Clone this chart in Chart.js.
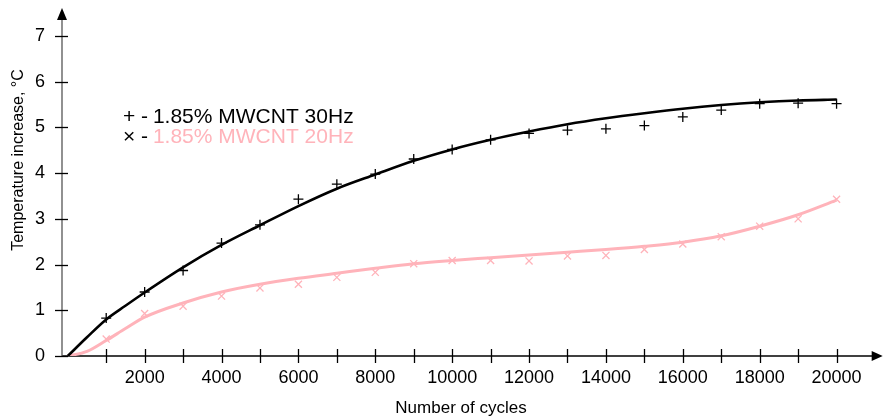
<!DOCTYPE html>
<html lang="en">
<head>
  <meta charset="UTF-8">
  <title>Temperature increase vs number of cycles</title>
  <style>
    body {
      margin: 0;
      padding: 0;
      background: #ffffff;
      font-family: 'Liberation Sans', Arial, Helvetica, sans-serif;
    }
    #wrap {
      position: relative;
      width: 889px;
      height: 419px;
    }
  </style>
  <script src="https://cdn.jsdelivr.net/npm/chart.js"></script>
</head>
<body>
  <div id="wrap">
    <canvas id="tempChart" width="889" height="419"></canvas>
  </div>
  <script>
    // measured points
    const cycles = [1000, 2000, 3000, 4000, 5000, 6000, 7000, 8000, 9000, 10000,
                    11000, 12000, 13000, 14000, 15000, 16000, 17000, 18000, 19000, 20000];
    const temp30Hz = [0.83, 1.40, 1.87, 2.47, 2.87, 3.43, 3.76, 3.98, 4.31, 4.52,
                      4.73, 4.87, 4.94, 4.97, 5.04, 5.23, 5.38, 5.52, 5.53, 5.52];
    const temp20Hz = [0.37, 0.93, 1.09, 1.31, 1.49, 1.57, 1.72, 1.83, 2.02, 2.09,
                      2.09, 2.08, 2.19, 2.20, 2.33, 2.45, 2.61, 2.84, 3.00, 3.43];

    // fitted curves
    const fitCycles = [0, 500, 1000, 1500, 2000, 3000, 4000, 5000, 6000, 7000, 8000, 9000, 10000,
                       11000, 12000, 13000, 14000, 15000, 16000, 17000, 18000, 19000, 20000];
    const fit30Hz = [0, 0.41, 0.80, 1.10, 1.39, 1.94, 2.43, 2.86, 3.28, 3.66, 3.97, 4.27, 4.52,
                     4.73, 4.91, 5.07, 5.20, 5.31, 5.41, 5.49, 5.55, 5.59, 5.61];
    const fit20Hz = [0, 0.10, 0.34, 0.60, 0.85, 1.16, 1.40, 1.57, 1.70, 1.81, 1.92, 2.02, 2.09,
                     2.15, 2.21, 2.27, 2.33, 2.40, 2.49, 2.63, 2.84, 3.09, 3.41];

    const xLabelTicks = [2000, 4000, 6000, 8000, 10000, 12000, 14000, 16000, 18000, 20000];
    const xTickMarks = [1000, 2000, 3000, 4000, 5000, 6000, 7000, 8000, 9000, 10000,
                        11000, 12000, 13000, 14000, 15000, 16000, 17000, 18000, 19000, 20000];
    const yTicks = [0, 1, 2, 3, 4, 5, 6, 7];

    const seriesNames = ['1.85% MWCNT 30Hz', '1.85% MWCNT 20Hz'];
    const pink = '#ffb3ba';
    const fontFamily = "'Liberation Sans', Arial, Helvetica, sans-serif";

    const toXY = (xs, ys) => xs.map((x, i) => ({ x: x, y: ys[i] }));

    // axes with arrows, ticks crossing the lines, titles and legend
    const axesPlugin = {
      id: 'axesPlugin',
      beforeDatasetsDraw(chart) {
        const ctx = chart.ctx;
        const xs = chart.scales.x, ys = chart.scales.y;
        const x0 = xs.left, y0 = ys.getPixelForValue(0);
        const xEnd = xs.right, yEnd = ys.top;
        ctx.save();
        // x axis
        ctx.strokeStyle = '#000';
        ctx.fillStyle = '#000';
        ctx.lineWidth = 1.3;
        ctx.beginPath();
        ctx.moveTo(x0, y0);
        ctx.lineTo(xEnd - 8, y0);
        ctx.stroke();
        ctx.beginPath();
        ctx.moveTo(xEnd, y0);
        ctx.lineTo(xEnd - 11, y0 - 5);
        ctx.lineTo(xEnd - 11, y0 + 5);
        ctx.closePath();
        ctx.fill();
        xTickMarks.forEach(v => {
          const px = Math.round(xs.getPixelForValue(v)) + 0.5;
          ctx.beginPath();
          ctx.moveTo(px, y0 - 7);
          ctx.lineTo(px, y0 + 7);
          ctx.stroke();
        });
        // y axis
        ctx.strokeStyle = '#555';
        ctx.beginPath();
        ctx.moveTo(x0, y0);
        ctx.lineTo(x0, yEnd + 8);
        ctx.stroke();
        ctx.fillStyle = '#000';
        ctx.beginPath();
        ctx.moveTo(x0, yEnd);
        ctx.lineTo(x0 - 5, yEnd + 12);
        ctx.lineTo(x0 + 5, yEnd + 12);
        ctx.closePath();
        ctx.fill();
        ctx.strokeStyle = '#000';
        yTicks.forEach(v => {
          const py = Math.round(ys.getPixelForValue(v)) + 0.5;
          ctx.beginPath();
          ctx.moveTo(x0 - 7, py);
          ctx.lineTo(x0 + 6, py);
          ctx.stroke();
        });

        // axis titles
        ctx.fillStyle = '#000';
        ctx.textAlign = 'center';
        ctx.textBaseline = 'middle';
        ctx.font = '17px ' + fontFamily;
        ctx.fillText('Number of cycles', 461, 408);
        ctx.translate(19, 160);
        ctx.rotate(-Math.PI / 2);
        ctx.font = '16px ' + fontFamily;
        ctx.fillText('Temperature increase, \u00B0C', 0, 0);
        ctx.restore();

        // legend
        ctx.save();
        ctx.font = '21px ' + fontFamily;
        ctx.textAlign = 'left';
        ctx.textBaseline = 'alphabetic';
        const lx = 123;
        [['+ - ', '#000', 123], ['\u00D7 - ', pink, 143]].forEach((row, i) => {
          ctx.fillStyle = '#000';
          ctx.fillText(row[0], lx, row[2]);
          const w = ctx.measureText(row[0]).width;
          ctx.fillStyle = row[1];
          ctx.fillText(seriesNames[i], lx + w - 1, row[2]);
        });
        ctx.restore();
      }
    };

    const ctx = document.getElementById('tempChart').getContext('2d');
    new Chart(ctx, {
      type: 'line',
      data: {
        datasets: [
          {
            label: seriesNames[0] + ' fit',
            data: toXY(fitCycles, fit30Hz),
            borderColor: '#000',
            borderWidth: 2.6,
            pointRadius: 0,
            cubicInterpolationMode: 'monotone',
            fill: false
          },
          {
            label: seriesNames[1] + ' fit',
            data: toXY(fitCycles, fit20Hz),
            borderColor: pink,
            borderWidth: 3,
            pointRadius: 0,
            cubicInterpolationMode: 'monotone',
            fill: false
          },
          {
            label: seriesNames[0],
            data: toXY(cycles, temp30Hz),
            showLine: false,
            pointStyle: 'cross',
            pointRadius: 5,
            pointBorderWidth: 1.3,
            pointBorderColor: '#000',
            borderColor: '#000'
          },
          {
            label: seriesNames[1],
            data: toXY(cycles, temp20Hz),
            showLine: false,
            pointStyle: 'crossRot',
            pointRadius: 5,
            pointBorderWidth: 1.3,
            pointBorderColor: pink,
            borderColor: pink
          }
        ]
      },
      options: {
        responsive: false,
        animation: false,
        layout: { padding: { top: 8, right: 3, left: 0, bottom: 0 } },
        plugins: {
          legend: { display: false },
          tooltip: { enabled: false },
          title: { display: false }
        },
        scales: {
          x: {
            type: 'linear',
            min: -150,
            max: 21200,
            grid: { display: false, drawTicks: false },
            border: { display: false },
            afterFit: s => { s.height = 63; s.paddingLeft = 0; s.paddingRight = 0; },
            afterBuildTicks: s => { s.ticks = xLabelTicks.map(v => ({ value: v })); },
            ticks: {
              color: '#000',
              padding: 11,
              maxRotation: 0,
              autoSkip: false,
              font: { family: fontFamily, size: 18 },
              callback: v => String(v)
            }
          },
          y: {
            type: 'linear',
            min: 0,
            max: 7.613,
            grid: { display: false, drawTicks: false },
            border: { display: false },
            afterFit: s => { s.width = 62; s.paddingTop = 0; s.paddingBottom = 0; },
            afterBuildTicks: s => { s.ticks = yTicks.map(v => ({ value: v })); },
            ticks: {
              color: '#000',
              padding: 17,
              font: { family: fontFamily, size: 18 },
              callback: v => String(v)
            }
          }
        }
      },
      plugins: [axesPlugin]
    });
  </script>
</body>
</html>
